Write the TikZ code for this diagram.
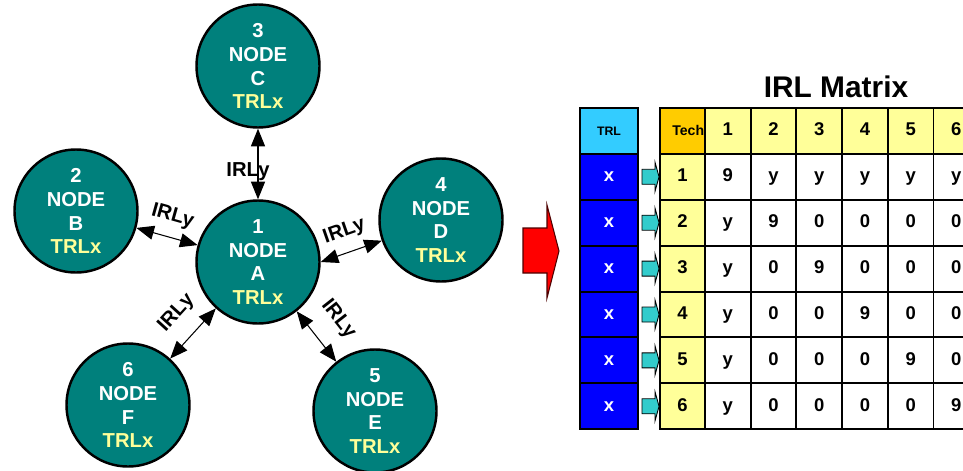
\documentclass[tikz,border=0pt]{standalone}
\usepackage{fontspec}
\setmainfont{Liberation Sans}
\usepackage{xcolor}
\usepackage{tikz}
\usetikzlibrary{positioning}
\usetikzlibrary{arrows.meta}
\definecolor{nodeteal}{RGB}{0,128,124}
\definecolor{trlyellow}{RGB}{255,255,153}
\definecolor{paleyellow}{RGB}{255,255,153}
\definecolor{techorange}{RGB}{255,204,0}
\definecolor{trlcyan}{RGB}{51,204,255}
\definecolor{trlblue}{RGB}{0,0,255}
\definecolor{linkcyan}{RGB}{51,204,204}

\begin{document}
\begin{tikzpicture}
% Define styles
\tikzstyle{irlnode} = [circle, draw=black, line width=1.4pt, fill=nodeteal, text=white, minimum size=2.46cm, inner sep=0pt, align=center, font=\fontsize{11.5}{13.6}\selectfont\bfseries]
\tikzstyle{irl} = [{Triangle[length=10pt,width=8pt]}-{Triangle[length=10pt,width=8pt]}, line width=0.6pt]
\tikzstyle{irllabel} = [font=\fontsize{11.5}{13}\selectfont\bfseries, text=black]
\tikzstyle{cell} = [rectangle, draw=black, line width=1.1pt, minimum width=0.914cm, minimum height=0.918cm, inner sep=0pt, text height=7.6pt, text depth=2.2pt, font=\fontsize{10.5}{12}\selectfont\bfseries]
\useasboundingbox (0,0) rectangle (19.26,9.4);
\clip (0,0) rectangle (19.26,9.4);
% Define nodes
\node[irlnode] (A) at (5.16,4.16) {1\\NODE\\A\\\textcolor{trlyellow}{TRLx}};
\node[irlnode] (B) at (1.52,5.18) {2\\NODE\\B\\\textcolor{trlyellow}{TRLx}};
\node[irlnode] (C) at (5.16,8.08) {3\\NODE\\C\\\textcolor{trlyellow}{TRLx}};
\node[irlnode] (D) at (8.82,5.00) {4\\NODE\\D\\\textcolor{trlyellow}{TRLx}};
\node[irlnode] (E) at (7.50,1.18) {5\\NODE\\E\\\textcolor{trlyellow}{TRLx}};
\node[irlnode] (F) at (2.56,1.30) {6\\NODE\\F\\\textcolor{trlyellow}{TRLx}};
% Connect the nodes
\draw[irl] (C) -- node[irllabel, xshift=-0.2cm, yshift=-0.15cm] {IRLy} (A);
\draw[irl] (B) -- node[irllabel, sloped, above=3pt] {IRLy} (A);
\draw[irl] (A.east) -- node[irllabel, sloped, above=3pt] {IRLy} (D);
\draw[irl] (F) -- node[irllabel, sloped, above=6pt, pos=0.56] {IRLy} (A);
\draw[irl] (A) -- node[irllabel, sloped, above=7pt] {IRLy} (E);
% Block arrow towards the matrix
\draw[fill=red, draw=black!70!red, line width=0.6pt] (10.46,4.84) -- (10.94,4.84) -- (10.94,5.30) -- (11.18,4.38) -- (10.94,3.44) -- (10.94,3.94) -- (10.46,3.94) -- cycle;
% Matrix
\node[font=\fontsize{17}{20}\selectfont\bfseries] (title) at (16.72,7.66) {IRL Matrix};
\node[cell, fill=trlcyan, minimum width=1.16cm, font=\fontsize{7}{8}\selectfont\bfseries] (trl-0) at (12.18,6.782) {TRL};
\foreach \r in {1,...,6}
  \node[cell, fill=trlblue, text=white, minimum width=1.16cm] (trl-\r) at (12.18,6.782-0.918*\r) {x};
\node[cell, fill=techorange, minimum width=0.9cm] (tech-0) at (13.65,6.782) {};
\node[anchor=west, inner sep=0pt, font=\fontsize{8}{9}\selectfont\bfseries] (techtext) at (13.44,6.782) {Tech};
\foreach \c in {1,...,6}
  \node[cell, fill=paleyellow] (cell-0-\c) at (13.643+0.914*\c,6.782) {\c};
\foreach \r/\vals in {1/{9,y,y,y,y,y}, 2/{y,9,0,0,0,0}, 3/{y,0,9,0,0,0}, 4/{y,0,0,9,0,0}, 5/{y,0,0,0,9,0}, 6/{y,0,0,0,0,9}} {
  \node[cell, fill=paleyellow, minimum width=0.9cm] (tech-\r) at (13.65,6.782-0.918*\r) {\r};
  \foreach \v [count=\c] in \vals
    \node[cell, fill=white] (cell-\r-\c) at (13.643+0.914*\c,6.782-0.918*\r) {\v};
  % link from TRL to tech row
  \draw[fill=linkcyan, draw=black, line width=0.5pt, shift={(tech-\r.west)}] (-0.34,0.15) -- (-0.08,0.15) -- (-0.08,0.29) -- (0,0) -- (-0.08,-0.29) -- (-0.08,-0.15) -- (-0.34,-0.15) -- cycle;
}
\end{tikzpicture}
\end{document}
